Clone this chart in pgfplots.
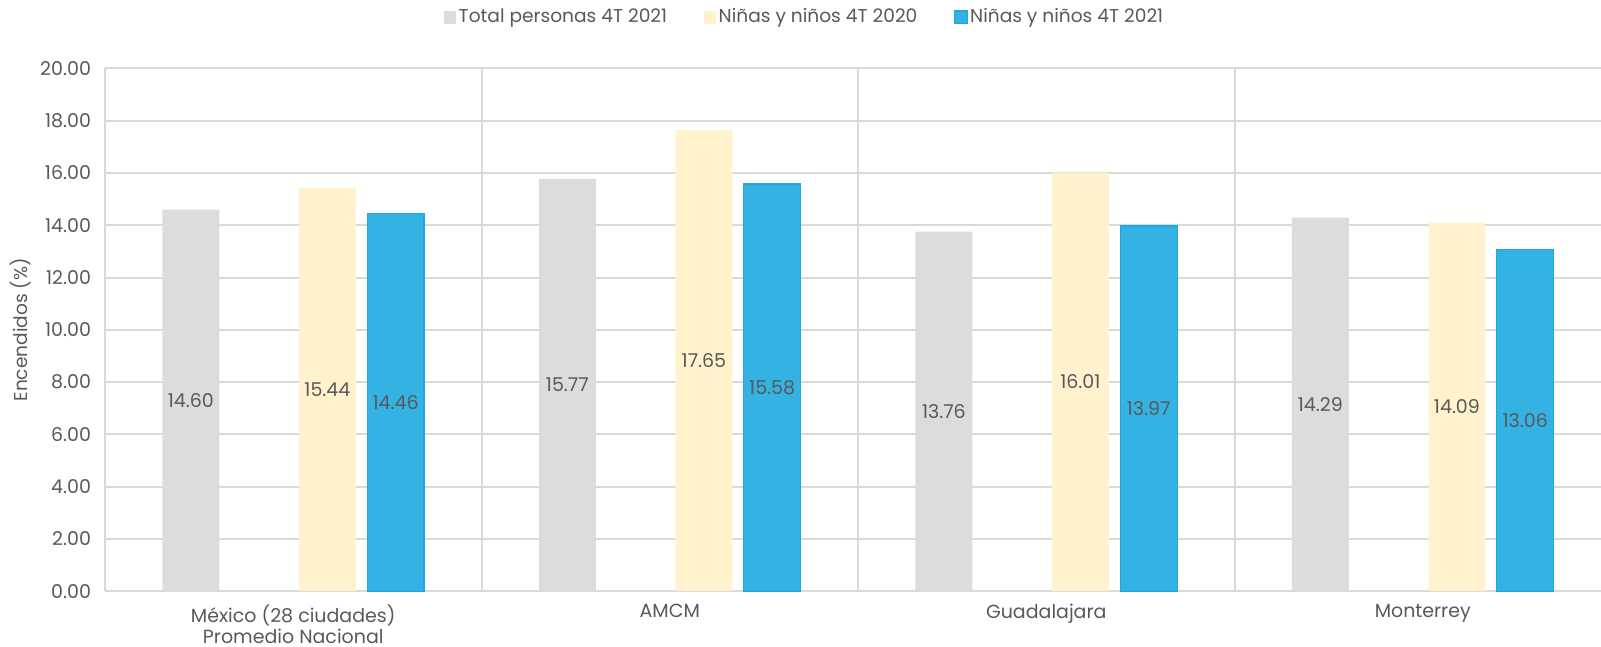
\documentclass[border=0pt]{standalone}
\usepackage{fontspec}
\setmainfont{Poppins}
\usepackage{pgfplots}
\pgfplotsset{compat=1.18}
\definecolor{cgray}{HTML}{DCDCDC}
\definecolor{cyel}{HTML}{FFF2CC}
\definecolor{cblue}{HTML}{33B2E3}
\definecolor{cblueedge}{HTML}{1FA8E0}
\definecolor{ctxt}{HTML}{595959}
\definecolor{cgrid}{HTML}{D9D9D9}
\begin{document}
\begin{tikzpicture}
\useasboundingbox (0,0) rectangle (800.5pt,323.5pt);
\begin{axis}[
  at={(52.5pt,27.9pt)}, anchor=south west,
  scale only axis, width=748pt, height=261.4pt,
  xmin=-0.5, xmax=3.4734, ymin=0, ymax=20,
  ytick={0,2,...,20},
  yticklabel style={xshift=-3.5pt, /pgf/number format/fixed, /pgf/number format/fixed zerofill, /pgf/number format/precision=2},
  /pgf/number format/assume math mode=true,
  xtick={0,1,2,3},
  xticklabels={{México (28 ciudades)\\Promedio Nacional},AMCM,Guadalajara,Monterrey},
  xticklabel style={align=center, yshift=-3pt, font=\fontsize{9.5}{10.6}\selectfont},
  extra x ticks={-0.5,0.5,1.5,2.5},
  extra x tick labels={},
  extra x tick style={grid=major, major grid style={cgrid, line width=1pt}},
  major tick length=0pt,
  ymajorgrids, grid style={cgrid, line width=1pt},
  axis line style={draw=none},
  tick label style={font=\fontsize{9.5}{10.6}\selectfont, text=ctxt},
  ylabel={Encendidos (\%)},
  ylabel style={font=\fontsize{9.3}{11}\selectfont, text=ctxt, yshift=-2.2pt},
  ybar, bar width=0.151,
  legend style={at={(0.4676,1.0975)}, anchor=center, draw=none, legend columns=3,
    font=\fontsize{9.3}{11}\selectfont, text=ctxt,
    /tikz/every even column/.append style={column sep=17pt},
    nodes={inner xsep=1.2pt}},
  legend image code/.code={\fill[#1] (0pt,-3.2pt) rectangle (6.4pt,3.2pt);},
  visualization depends on={rawy \as \rawy},
  nodes near coords={\pgfmathprintnumber[fixed,fixed zerofill,precision=2]{\pgfplotspointmeta}},
  every node near coord/.append style={anchor=center, font=\fontsize{9.5}{11}\selectfont, text=ctxt, yshift={-6.535pt*\rawy}},
]
\addplot[fill=cgray, draw=none, bar shift=-0.272] coordinates {(0,14.60) (1,15.77) (2,13.76) (3,14.29)};
\addlegendentry{Total personas 4T 2021}
\addplot[fill=cyel, draw=none, bar shift=0.0907] coordinates {(0,15.44) (1,17.65) (2,16.01) (3,14.09)};
\addlegendentry{Niñas y niños 4T 2020}
\addplot[fill=cblue, draw=cblueedge, line width=0.6pt, bar shift=0.272] coordinates {(0,14.46) (1,15.58) (2,13.97) (3,13.06)};
\addlegendentry{Niñas y niños 4T 2021}
\end{axis}
\end{tikzpicture}
\end{document}
